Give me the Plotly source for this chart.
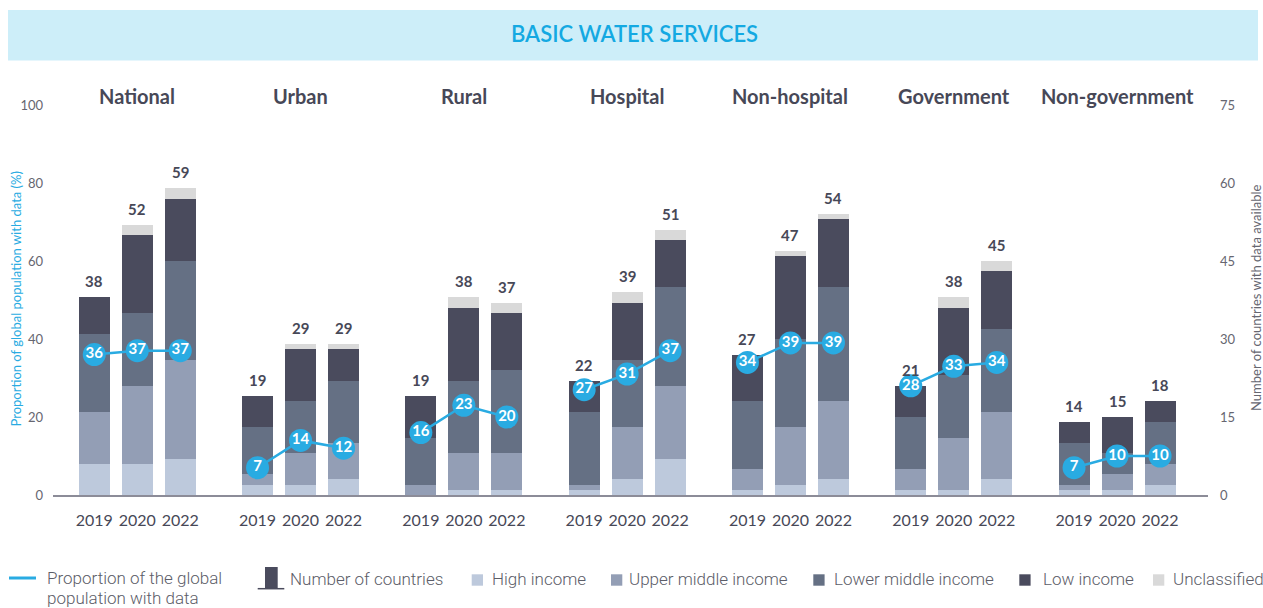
import plotly.graph_objects as go

# ---- data -------------------------------------------------------------
groups = ["National", "Urban", "Rural", "Hospital", "Non-hospital", "Government", "Non-government"]
years = ["2019", "2020", "2022"]

# number of countries per income group (stacked bars, right axis)
high_income = [6, 6, 7, 2, 2, 3, 0, 1, 1, 1, 3, 7, 1, 2, 3, 1, 1, 3, 1, 1, 2]
upper_middle = [10, 15, 19, 2, 6, 7, 2, 7, 7, 1, 10, 14, 4, 11, 15, 4, 10, 13, 1, 3, 4]
lower_middle = [15, 14, 19, 9, 10, 12, 9, 14, 16, 14, 13, 19, 13, 17, 22, 10, 12, 16, 8, 4, 8]
low_income = [7, 15, 12, 6, 10, 6, 8, 14, 11, 6, 11, 9, 9, 16, 13, 6, 13, 11, 4, 7, 4]
unclassified = [0, 2, 2, 0, 1, 1, 0, 2, 2, 0, 2, 2, 0, 1, 1, 0, 2, 2, 0, 0, 0]
countries_total = [38, 52, 59, 19, 29, 29, 19, 38, 37, 22, 39, 51, 27, 47, 54, 21, 38, 45, 14, 15, 18]

# proportion of the global population with data (%) (line, left axis)
population_pct = [36, 37, 37, 7, 14, 12, 16, 23, 20, 27, 31, 37, 34, 39, 39, 28, 33, 34, 7, 10, 10]

# ---- styling ------------------------------------------------------------
W, H = 1263, 608
M_L, M_R, M_T, M_B = 53, 55, 105, 113
PLOT_W = W - M_L - M_R
PLOT_H = H - M_T - M_B

BLUE = "#29abe2"
C_HIGH = "#bdc9dc"
C_UPPER = "#939eb5"
C_LOWER = "#657084"
C_LOW = "#4a4b5d"
C_UNCL = "#d9d9d9"
DARK = "#474857"
GREY = "#666670"
LEG_GREY = "#5c5d68"

FONT = "Lato, 'Open Sans', sans-serif"
LEG_FONT = "Roboto, 'Liberation Sans Narrow', sans-serif"

BAR_STEP = 0.2633   # spacing between the three year bars inside a group
BAR_W = 0.19


def px_x(px):
    return (px - M_L) / PLOT_W


def px_y(py):
    return (M_T + PLOT_H - py) / PLOT_H


# x position of every bar: group index plus a year offset
xpos = [gi + (yi - 1) * BAR_STEP for gi in range(len(groups)) for yi in range(len(years))]
year_labels = [y for _ in groups for y in years]

fig = go.Figure()

stack = [
    ("High income", high_income, C_HIGH),
    ("Upper middle income", upper_middle, C_UPPER),
    ("Lower middle income", lower_middle, C_LOWER),
    ("Low income", low_income, C_LOW),
    ("Unclassified", unclassified, C_UNCL),
]
for name, vals, col in stack:
    fig.add_trace(go.Bar(
        x=xpos, y=vals, name=name, width=BAR_W,
        marker=dict(color=col, line=dict(width=0)),
        yaxis="y", showlegend=False, hoverinfo="skip",
    ))

# population line, broken between groups
lx, ly, lt = [], [], []
for gi in range(len(groups)):
    for yi in range(len(years)):
        i = gi * len(years) + yi
        lx.append(xpos[i])
        ly.append(population_pct[i])
        lt.append(str(population_pct[i]))
    lx.append(None)
    ly.append(None)
    lt.append("")

fig.add_trace(go.Scatter(
    x=lx, y=ly, text=lt, mode="lines+markers+text", yaxis="y2",
    line=dict(color=BLUE, width=2.5),
    marker=dict(color=BLUE, size=23, line=dict(width=0)),
    textposition="middle center",
    textfont=dict(family=FONT, size=15, color="white", weight="bold"),
    connectgaps=False, showlegend=False, hoverinfo="skip",
))

annotations = []

# totals above each bar
for x, t in zip(xpos, countries_total):
    annotations.append(dict(
        x=x, y=t, xref="x", yref="y", text=str(t), showarrow=False,
        xanchor="center", yanchor="middle", yshift=16,
        font=dict(family=FONT, size=15, color=DARK, weight="bold"),
    ))

# group headings
for gi, g in enumerate(groups):
    annotations.append(dict(
        x=gi, y=px_y(96), xref="x", yref="paper", text=g, showarrow=False,
        xanchor="center", yanchor="middle",
        font=dict(family=FONT, size=20, color=DARK, weight="bold"),
    ))

# axis titles
annotations.append(dict(
    x=px_x(15.5), y=px_y(299), xref="paper", yref="paper", textangle=-90,
    xanchor="center", yanchor="middle",
    text="Proportion of global population with data (%)", showarrow=False,
    font=dict(family=FONT, size=13, color=BLUE),
))
annotations.append(dict(
    x=px_x(1256), y=px_y(298), xref="paper", yref="paper", textangle=-90,
    xanchor="center", yanchor="middle",
    text="Number of countries with data available", showarrow=False,
    font=dict(family=FONT, size=13, color=GREY),
))

# banner title
annotations.append(dict(
    x=px_x(634), y=px_y(34), xref="paper", yref="paper",
    xanchor="center", yanchor="middle",
    text="BASIC WATER SERVICES", showarrow=False,
    font=dict(family=FONT, size=22, color="#14a9e2", weight=600),
))

shapes = [dict(
    type="rect", xref="paper", yref="paper",
    x0=px_x(8), x1=px_x(1258), y0=px_y(10), y1=px_y(60.5),
    fillcolor="#cdeef9", line=dict(width=0), layer="below",
)]

# ---- legend ---------------------------------------------------------------
LEG_Y = 579
leg_font = dict(family=LEG_FONT, size=17, color=LEG_GREY, weight=300)


def leg_text(x, y, txt):
    annotations.append(dict(
        x=px_x(x - 2), y=px_y(y), xref="paper", yref="paper", text=txt,
        showarrow=False, xanchor="left", yanchor="middle", font=leg_font,
    ))


shapes.append(dict(type="line", xref="paper", yref="paper",
                   x0=px_x(9), x1=px_x(36), y0=px_y(578), y1=px_y(578),
                   line=dict(color=BLUE, width=3)))
leg_text(47, 578, "Proportion of the global")
leg_text(47, 597.5, "population with data")

shapes.append(dict(type="rect", xref="paper", yref="paper",
                   x0=px_x(265), x1=px_x(277.7), y0=px_y(588.7), y1=px_y(567),
                   fillcolor=C_LOW, line=dict(width=0)))
shapes.append(dict(type="line", xref="paper", yref="paper",
                   x0=px_x(257.7), x1=px_x(284.3), y0=px_y(588.7), y1=px_y(588.7),
                   line=dict(color=C_LOW, width=1.5)))
leg_text(290, LEG_Y, "Number of countries")

for (name, _, col), sx, tx in zip(stack, [471.7, 611, 813.3, 1019.3, 1153],
                                  [491.7, 629, 834, 1043, 1173]):
    shapes.append(dict(type="rect", xref="paper", yref="paper",
                       x0=px_x(sx), x1=px_x(sx + 11.3), y0=px_y(585.7), y1=px_y(574.3),
                       fillcolor=col, line=dict(width=0)))
    leg_text(tx, LEG_Y, name)

fig.update_layout(
    width=W, height=H,
    margin=dict(l=M_L, r=M_R, t=M_T, b=M_B, pad=0),
    paper_bgcolor="white", plot_bgcolor="white",
    barmode="stack", bargap=0,
    showlegend=False,
    font=dict(family=FONT),
    xaxis=dict(
        range=[-0.516, 6.557], tickmode="array", tickvals=xpos, ticktext=year_labels,
        showgrid=False, zeroline=False, showline=True, linecolor="#8c8c98", linewidth=2,
        ticks="", ticklabelstandoff=10,
        tickfont=dict(family=FONT, size=16, color=DARK),
        fixedrange=True,
    ),
    yaxis=dict(
        range=[0, 75], side="right", tickmode="array", tickvals=[0, 15, 30, 45, 60, 75],
        showgrid=False, zeroline=False, showline=False, ticks="",
        ticklabelstandoff=11, tickfont=dict(family=FONT, size=13, color=GREY),
    ),
    yaxis2=dict(
        range=[0, 100], side="left", overlaying="y", tickmode="array",
        tickvals=[0, 20, 40, 60, 80, 100],
        showgrid=False, zeroline=False, showline=False, ticks="",
        ticklabelstandoff=9, tickfont=dict(family=FONT, size=13, color=GREY),
    ),
    annotations=annotations,
    shapes=shapes,
)

fig.write_html("out.html")
